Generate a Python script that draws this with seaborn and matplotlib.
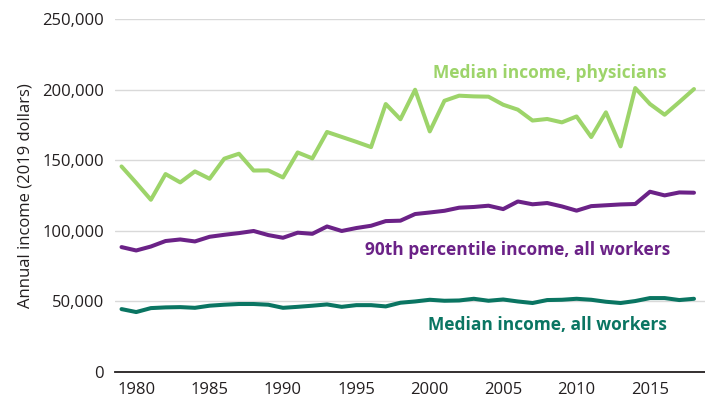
"""Physician vs. all-worker income, 1979-2018."""
import matplotlib.pyplot as plt
import matplotlib.ticker as mticker
import pandas as pd
import seaborn as sns

years = list(range(1979, 2019))

physicians = [
    145600, 134000, 122000, 140200, 134300, 142100, 136900, 151100, 154600, 142700,
    142800, 137800, 155500, 151300, 170000, 166500, 163000, 159300, 189800, 179000,
    199900, 170400, 192100, 195700, 195200, 195000, 189300, 185800, 178100, 179200,
    176800, 181000, 166400, 183900, 159800, 201100, 189800, 182200, 191200, 200400,
]
p90_all = [
    88500, 86100, 88900, 92800, 93900, 92500, 95800, 97200, 98400, 99900,
    97000, 95100, 98700, 97900, 103100, 99900, 102000, 103600, 106900, 107200,
    111900, 113000, 114200, 116400, 116900, 117800, 115400, 120800, 118800, 119700,
    117300, 114300, 117500, 118100, 118700, 119000, 127700, 125100, 127200, 127000,
]
median_all = [
    44600, 42500, 45300, 45800, 46000, 45500, 47000, 47700, 48200, 48200,
    47700, 45500, 46200, 47000, 47900, 46200, 47400, 47400, 46500, 49100,
    50000, 51200, 50500, 50700, 51900, 50500, 51400, 50000, 48900, 51000,
    51200, 51900, 51200, 49800, 48900, 50300, 52400, 52400, 51000, 51900,
]

series_names = [
    "Median income, physicians",
    "90th percentile income, all workers",
    "Median income, all workers",
]
colors = ["#9dd46a", "#6b2287", "#0a7562"]

df = pd.DataFrame({"year": years, series_names[0]: physicians,
                   series_names[1]: p90_all, series_names[2]: median_all})
long = df.melt(id_vars="year", var_name="series", value_name="income")

sns.set_style("white")
plt.rcParams["font.family"] = ["Open Sans", "DejaVu Sans"]

fig = plt.figure(figsize=(7.05, 4.04), dpi=100)
ax = fig.add_axes([0.163, 0.079, 0.837, 0.874])

sns.lineplot(data=long, x="year", y="income", hue="series",
             palette=dict(zip(series_names, colors)), linewidth=2.9,
             legend=False, ax=ax)

ax.set_xlim(1978.55, 2018.75)
ax.set_ylim(0, 250000)
ax.set_xticks(range(1980, 2016, 5))
ax.set_yticks(range(0, 250001, 50000))
ax.yaxis.set_major_formatter(mticker.StrMethodFormatter("{x:,.0f}"))
ax.tick_params(axis="both", length=0, labelsize=12, colors="#231f20", pad=7)
ax.tick_params(axis="y", pad=8)
ax.grid(axis="y", color="#d9d9d9", linewidth=1)
ax.set_axisbelow(True)
for side in ["top", "right", "left"]:
    ax.spines[side].set_visible(False)
ax.spines["bottom"].set_color("#231f20")
ax.spines["bottom"].set_linewidth(1.3)

ax.set_xlabel("")
ax.set_ylabel("Annual income (2019 dollars)", fontsize=12, color="#231f20",
              labelpad=6)

# direct labels instead of a legend
label_pos = [(2008.2, 212000), (2006.0, 86600), (2008.0, 33500)]
for name, color, (lx, ly) in zip(series_names, colors, label_pos):
    ax.text(lx, ly, name, color=color, fontsize=12.5, fontweight="bold",
            ha="center", va="center")

fig.savefig("out.png", dpi=100)
